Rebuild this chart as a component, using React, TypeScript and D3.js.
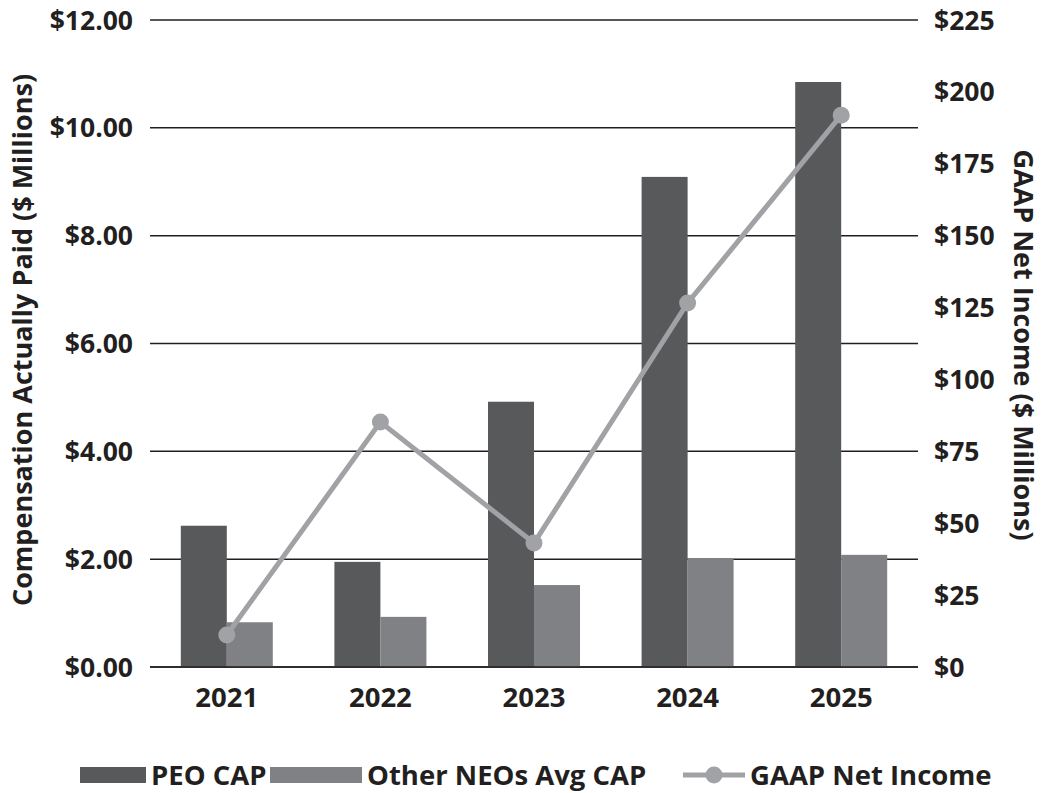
import React from "react";
import * as d3 from "d3";

const years = ["2021", "2022", "2023", "2024", "2025"];
const peoCap = [2.62, 1.95, 4.92, 9.09, 10.85];
const otherCap = [0.83, 0.93, 1.52, 2.02, 2.08];
const netIncome = [11.1, 85.2, 43.1, 126.6, 191.9];
const leftTicks = [0, 2, 4, 6, 8, 10, 12];
const rightTicks = [0, 25, 50, 75, 100, 125, 150, 175, 200, 225];

const W = 1043;
const H = 793;
const FONT = "'Open Sans', 'Noto Sans', sans-serif";
const PEO_COLOR = "#58595b";
const OTHER_COLOR = "#808184";
const LINE_COLOR = "#a1a2a5";
const GRID = "#231f20";
const FS = 26.5;

export default function App() {
  const x0 = d3.scaleBand<string>().domain(years).range([150, 918]);
  const yL = d3.scaleLinear().domain([0, 12]).range([667, 20]);
  const yR = d3.scaleLinear().domain([0, 225]).range([667, 20]);
  const barW = 46;
  const cx = (y: string) => (x0(y) as number) + x0.bandwidth() / 2;

  const line = d3
    .line<number>()
    .x((_, i) => cx(years[i]))
    .y((d) => yR(d));

  return (
    <svg width={W} height={H} style={{ position: "absolute", left: 0, top: 0 }}>
      <rect width={W} height={H} fill="#fff" />
      {leftTicks.map((t) => (
        <g key={"l" + t}>
          <line x1={150} x2={918} y1={yL(t)} y2={yL(t)} stroke={GRID} strokeWidth={1.5} />
          <text x={133} y={yL(t)} dy="0.36em" textAnchor="end" fontFamily={FONT} fontWeight={700} fontSize={FS} fill="#231f20">
            {d3.format("$.2f")(t)}
          </text>
        </g>
      ))}
      {rightTicks.map((t) => (
        <text key={"r" + t} x={934} y={yR(t)} dy="0.36em" textAnchor="start" fontFamily={FONT} fontWeight={700} fontSize={FS} fill="#231f20">
          {"$" + t}
        </text>
      ))}
      {years.map((yr, i) => (
        <g key={yr}>
          <rect x={cx(yr) - barW} y={yL(peoCap[i])} width={barW} height={yL(0) - yL(peoCap[i])} fill={PEO_COLOR} />
          <rect x={cx(yr)} y={yL(otherCap[i])} width={barW} height={yL(0) - yL(otherCap[i])} fill={OTHER_COLOR} />
          <text x={cx(yr)} y={697} dy="0.36em" textAnchor="middle" fontFamily={FONT} fontWeight={700} fontSize={27.5} fill="#231f20">
            {yr}
          </text>
        </g>
      ))}
      <line x1={150} x2={918} y1={yL(0)} y2={yL(0)} stroke={GRID} strokeWidth={1.5} />
      <path d={line(netIncome) as string} fill="none" stroke={LINE_COLOR} strokeWidth={5} />
      {netIncome.map((v, i) => (
        <circle key={i} cx={cx(years[i])} cy={yR(v)} r={8.5} fill={LINE_COLOR} />
      ))}
      <text
        transform={`translate(22,340) rotate(-90)`}
        textAnchor="middle"
        dy="0.36em"
        fontFamily={FONT}
        fontWeight={700}
        fontSize={27}
        fill="#231f20"
      >
        Compensation Actually Paid ($ Millions)
      </text>
      <text
        transform={`translate(1024,345) rotate(90)`}
        textAnchor="middle"
        dy="0.36em"
        fontFamily={FONT}
        fontWeight={700}
        fontSize={27}
        fill="#231f20"
      >
        GAAP Net Income ($ Millions)
      </text>
      {/* Legend */}
      <g fontFamily={FONT} fontWeight={700} fontSize={27.5} fill="#231f20">
        <rect x={80} y={767} width={66} height={16} fill={PEO_COLOR} />
        <text x={151} y={775} dy="0.36em">PEO CAP</text>
        <rect x={270} y={767} width={92} height={16} fill={OTHER_COLOR} />
        <text x={367} y={775} dy="0.36em">Other NEOs Avg CAP</text>
        <line x1={683} x2={745} y1={775} y2={775} stroke={LINE_COLOR} strokeWidth={5} />
        <circle cx={714} cy={775} r={8.5} fill={LINE_COLOR} />
        <text x={750} y={775} dy="0.36em">GAAP Net Income</text>
      </g>
    </svg>
  );
}
